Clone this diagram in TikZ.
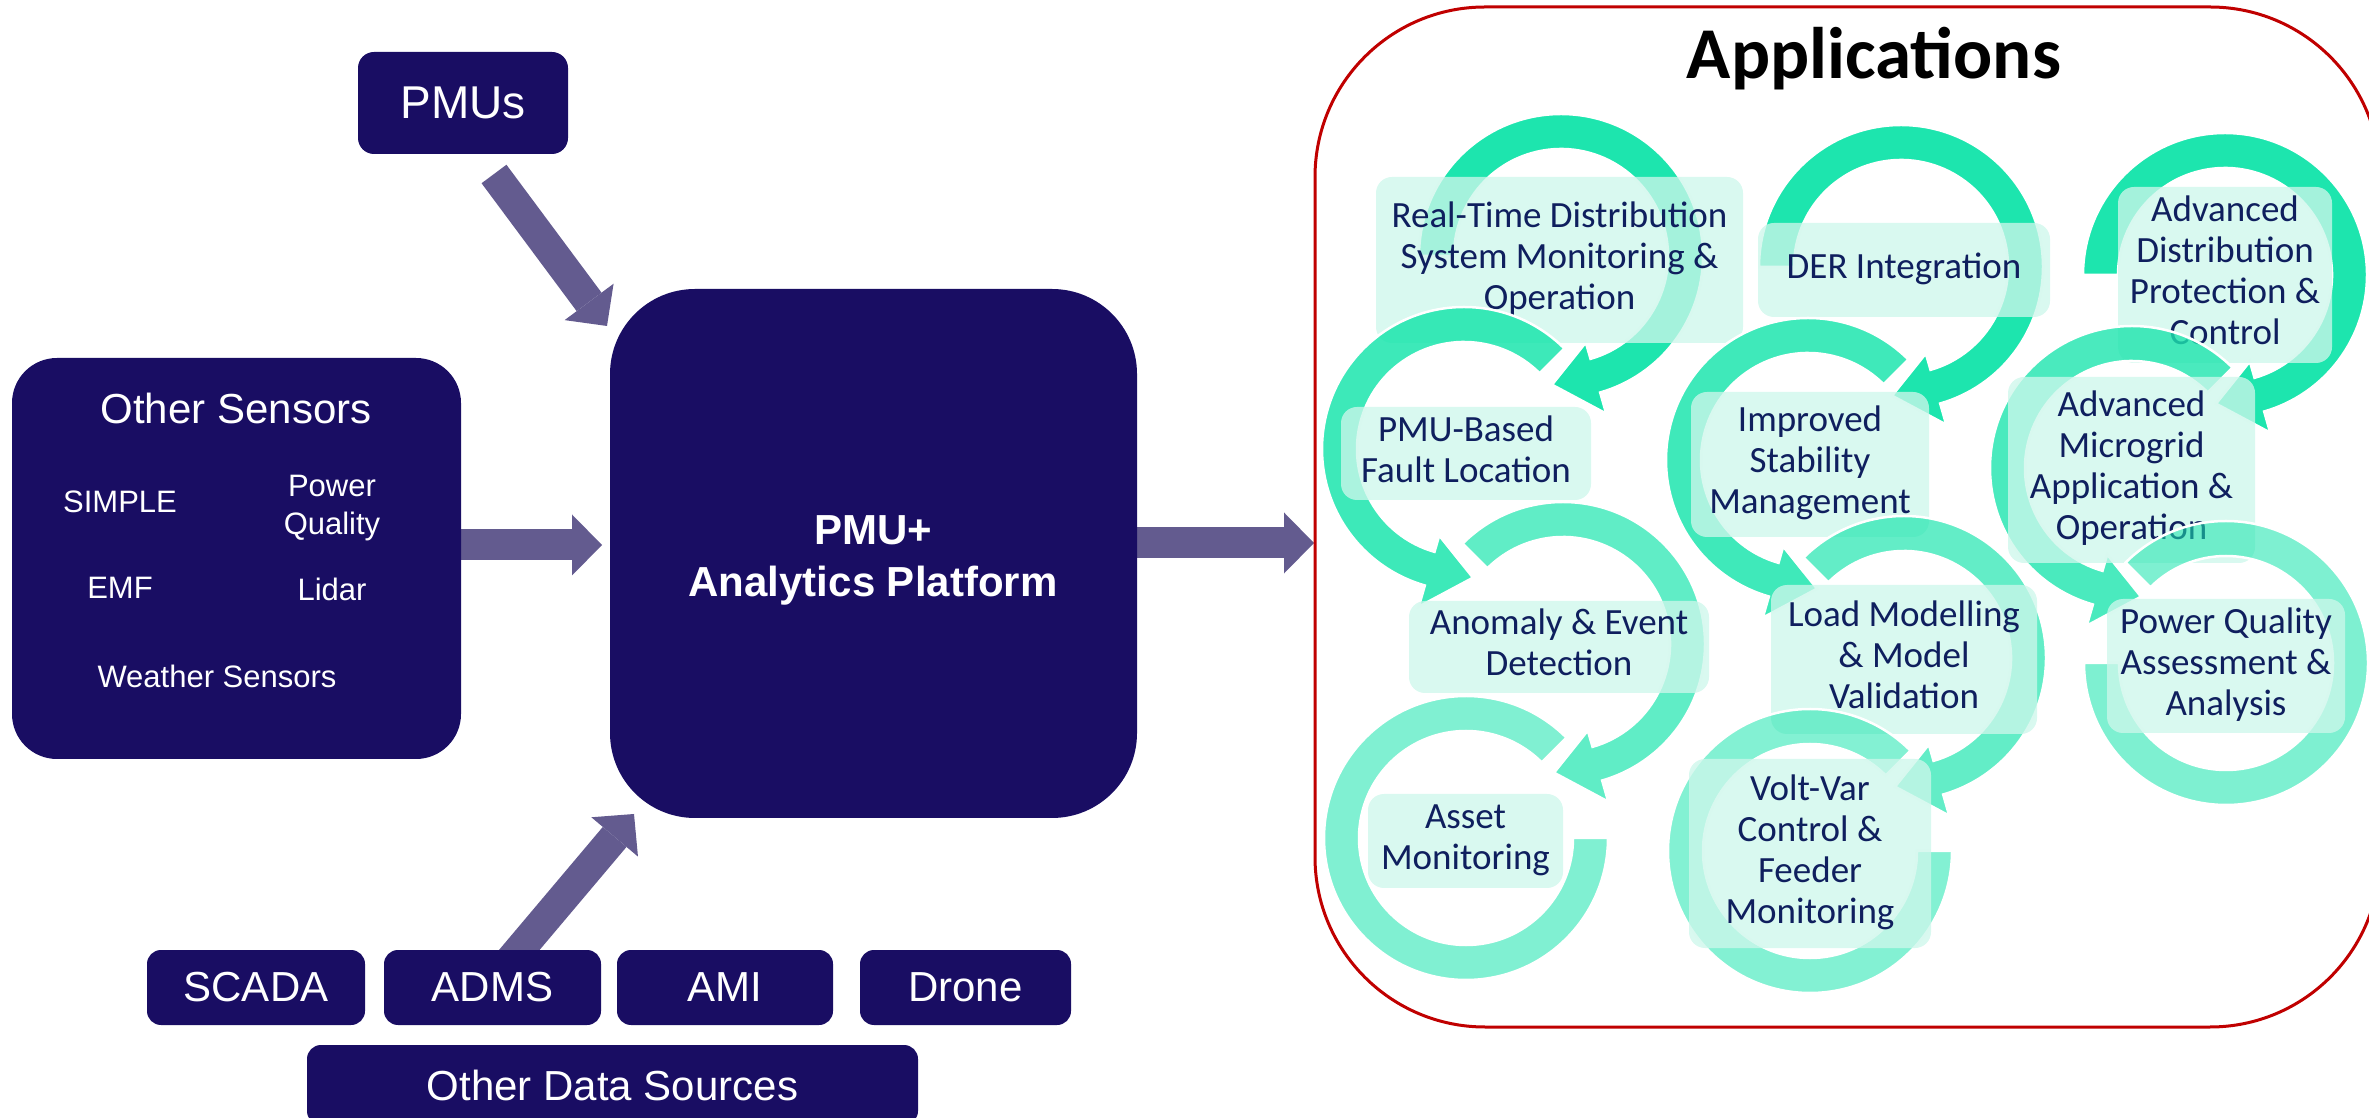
\documentclass[tikz,border=0pt]{standalone}
\usepackage{fontspec}
\setmainfont{Liberation Sans}
\newfontfamily\carlitofont{Carlito}
\usetikzlibrary{arrows.meta,calc}
\definecolor{navy}{HTML}{190D63}
\definecolor{arrowpurple}{HTML}{635B8F}
\definecolor{ringgreen}{HTML}{1DE5AE}
\definecolor{boxmint}{HTML}{CDF7EB}
\definecolor{apptext}{HTML}{0F1F5E}
\definecolor{panelred}{HTML}{C00000}
\newcommand\appfont{\carlitofont\fontsize{37}{41}\selectfont}
\newcommand\cwring[3]{%
  \filldraw[ring, fill opacity=#3]
    ($(#1)+(#2:142)$) arc[start angle=#2, end angle=-74, radius=142pt]
    -- ($(#1)+(-74:164)$) -- ($(#1)+(-94:129)$) -- ($(#1)+(-74:90)$)
    -- ($(#1)+(-74:107)$) arc[start angle=-74, end angle=#2, radius=107pt] -- cycle;}
\newcommand\ccwring[3]{%
  \filldraw[ring, fill opacity=#3]
    ($(#1)+(#2:142)$) arc[start angle=#2, end angle=254, radius=142pt]
    -- ($(#1)+(254:164)$) -- ($(#1)+(274:129)$) -- ($(#1)+(254:90)$)
    -- ($(#1)+(254:107)$) arc[start angle=254, end angle=#2, radius=107pt] -- cycle;}
\newcommand\flatring[4]{%
  \filldraw[ring, fill opacity=#4]
    ($(#1)+(#2:142)$) arc[start angle=#2, end angle=#3, radius=142pt]
    -- ($(#1)+(#3:107)$) arc[start angle=#3, end angle=#2, radius=107pt] -- cycle;}
\begin{document}
\begin{tikzpicture}[x=1pt,y=1pt,
  navybox/.style={fill=navy, text=white, inner sep=0pt, font=\fontsize{42}{50}\selectfont},
  fatarrow/.style={draw=arrowpurple, line width=31pt, -{Triangle[width=61pt,length=30pt,line width=0pt]}},
  appbox/.style={rounded corners=16pt, fill=boxmint, fill opacity=0.77, text opacity=1, text=apptext, font=\appfont, align=center, inner sep=0pt},
  ring/.style={fill=ringgreen, draw=white, line width=2.5pt},
  lbl/.style={text=white, anchor=base, inner sep=0pt, font=\fontsize{31}{38}\selectfont},
  bigbold/.style={text=white, anchor=base, inner sep=0pt, font=\bfseries\fontsize{42}{52}\selectfont}]
\useasboundingbox (0,0) rectangle (2369,1117);

% ---------- arrow end points ----------
\coordinate (pmuTail) at (494,943);
\coordinate (pmuTip) at (607,791);
\coordinate (senTail) at (461,572);
\coordinate (senTip) at (602,572);
\coordinate (outTail) at (1137,574);
\coordinate (outTip) at (1314,574);
\coordinate (admsTail) at (510,156);
\coordinate (admsTip) at (634,303);

\draw[fatarrow] (pmuTail) -- (pmuTip);
\draw[fatarrow] (senTail) -- (senTip);
\draw[fatarrow] (admsTail) -- (admsTip);
\draw[fatarrow] (outTail) -- (outTip);

% ---------- left side ----------
\node[navybox, rounded corners=16pt, minimum width=210pt, minimum height=102pt, font=\fontsize{46}{50}\selectfont] (pmus) at (463,1014) {PMUs};

\node[navybox, rounded corners=45pt, minimum width=449pt, minimum height=401pt] (sensors) at (236.5,558.5) {};
\node[lbl, font=\fontsize{42}{50}\selectfont] (sensortitle) at (236,693) {Other Sensors};
\node[lbl] (simple) at (120,604) {SIMPLE};
\node[lbl] (power) at (332,620) {Power};
\node[lbl] (quality) at (332,582) {Quality};
\node[lbl] (emf) at (120,518) {EMF};
\node[lbl] (lidar) at (332,516) {Lidar};
\node[lbl] (weather) at (217,429) {Weather Sensors};

\node[navybox, rounded corners=85pt, minimum width=527pt, minimum height=529pt] (platform) at (873.5,563.5) {};
\node[bigbold] (pmuplus) at (873,572) {PMU+};
\node[bigbold] (analytics) at (873,520) {Analytics Platform};

\node[navybox, rounded corners=14pt, minimum width=218pt, minimum height=75pt] (scada) at (256,129.5) {SCADA};
\node[navybox, rounded corners=14pt, minimum width=217pt, minimum height=75pt] (adms) at (492.5,129.5) {ADMS};
\node[navybox, rounded corners=14pt, minimum width=216pt, minimum height=75pt] (ami) at (725,129.5) {AMI};
\node[navybox, rounded corners=14pt, minimum width=211pt, minimum height=75pt] (drone) at (965.5,129.5) {Drone};
\node[navybox, rounded corners=14pt, minimum width=611pt, minimum height=80pt] (others) at (612.5,32) {Other Data Sources};

% ---------- applications panel ----------
\node[draw=panelred, line width=3pt, rounded corners=170pt, minimum width=1065pt, minimum height=1020pt, inner sep=0pt] (apps) at (1847.5,600) {};
\node[anchor=base, inner sep=0pt, font=\carlitofont\bfseries\fontsize{73}{80}\selectfont] (title) at (1874,1038) {Applications};

\coordinate (c1) at (1561,861);
\coordinate (c2) at (1901,850);
\coordinate (c3) at (2225,842);
\coordinate (c4) at (1464,668);
\coordinate (c5) at (1808,657);
\coordinate (c6) at (2132,649);
\coordinate (c7) at (1563,473);
\coordinate (c8) at (1904,459);
\coordinate (c9) at (2226,454);
\coordinate (c10) at (1466,279);
\coordinate (c11) at (1810,266);

% row 1
\cwring{c1}{180}{1}
\node[appbox, minimum width=367pt, minimum height=166pt] (b1) at (1559.5,857) {\strut Real-Time Distribution\\System Monitoring \&\\Operation\strut};
\cwring{c2}{180}{1}
\node[appbox, minimum width=292pt, minimum height=94pt] (b2) at (1904,847) {\strut DER Integration\strut};
\cwring{c3}{180}{1}
\node[appbox, minimum width=214pt, minimum height=176pt] (b3) at (2225,842) {\strut Advanced\\Distribution\\Protection \&\\Control\strut};

% row 2
\ccwring{c4}{45}{0.86}
\node[appbox, minimum width=250pt, minimum height=93pt] (b4) at (1466,663.5) {\strut PMU-Based\\Fault Location\strut};
\ccwring{c5}{45}{0.85}
\node[appbox, minimum width=238pt, minimum height=145pt] (b5) at (1810,652.5) {\strut Improved\\Stability\\Management\strut};
\ccwring{c6}{45}{0.80}
\node[appbox, minimum width=247pt, minimum height=186pt] (b6) at (2131.5,647) {\strut Advanced\\Microgrid\\Application \&\\Operation\strut};

% row 3
\cwring{c7}{135}{0.70}
\node[appbox, minimum width=300pt, minimum height=92pt] (b7) at (1559,470) {\strut Anomaly \& Event\\Detection\strut};
\cwring{c8}{135}{0.69}
\node[appbox, minimum width=266pt, minimum height=149pt] (b8) at (1904,457.5) {\strut Load Modelling\\\& Model\\Validation\strut};
\flatring{c9}{135}{-180}{0.57}
\node[appbox, minimum width=238pt, minimum height=134pt] (b9) at (2226,451) {\strut Power Quality\\Assessment \&\\Analysis\strut};

% row 4
\flatring{c10}{45}{360}{0.56}
\node[appbox, minimum width=195pt, minimum height=94pt] (b10) at (1465.5,276) {\strut Asset\\Monitoring\strut};
\flatring{c11}{45}{360}{0.55}
\node[appbox, minimum width=242pt, minimum height=189pt] (b11) at (1810,263.5) {\strut Volt-Var\\Control \&\\Feeder\\Monitoring\strut};
\end{tikzpicture}
\end{document}
